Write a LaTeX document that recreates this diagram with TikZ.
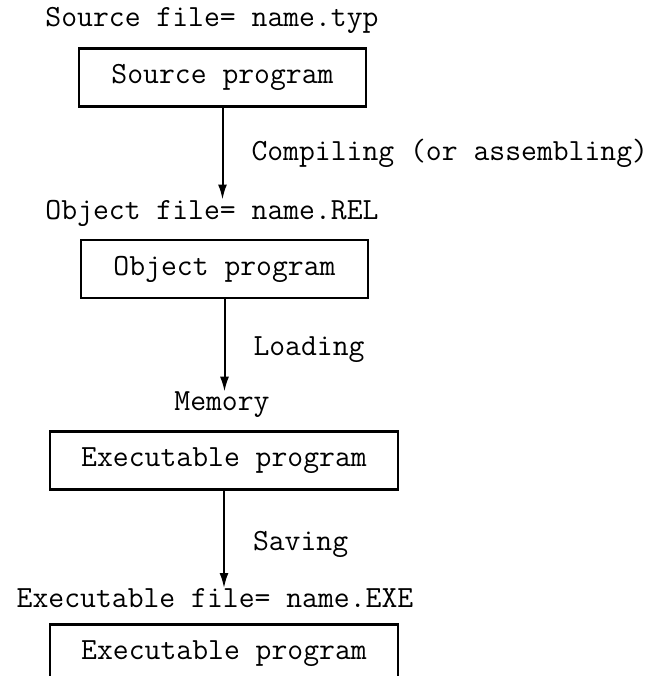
\documentclass[tikz,border=0pt]{standalone}
\usepackage{fontspec}
\usetikzlibrary{arrows.meta}

\begin{document}
\begin{tikzpicture}[x = .5pt, y = -.5pt,
		font = \ttfamily\fontsize{15.4}{18}\selectfont,
		prog/.style = {draw, line width = 1.1pt, minimum height = 29pt},
		lab/.style = {inner sep = 0pt},
		flow/.style = {line width = 1pt, -{Latex[length = 7.5pt, width = 4.5pt]}}]
		\clip (0,0) rectangle (658,676);
		
		\node (srcfile) at (212,20) [lab] {Source file= name.typ};
		\node (src) at (222.5,77.5) [prog, minimum width = 143.5pt] {Source program};
		
		\node (objfile) at (212,213) [lab] {Object file= name.REL};
		\node (obj) at (224.5,269) [prog, minimum width = 143.5pt] {Object program};
		
		\node (mem) at (222,405) [lab] {Memory};
		\node (exe) at (224,460.5) [prog, minimum width = 174pt] {Executable program};
		
		\node (exefile) at (215,598) [lab] {Executable file= name.EXE};
		\node (exe2) at (224,653.5) [prog, minimum width = 174pt] {Executable program};
		
		\draw [flow] (src.south) -- (objfile.north -| src.south)
			node [pos = .5, right = 14pt, lab] {Compiling (or assembling)};
		\draw [flow] (obj.south) -- (mem.north -| obj.south)
			node [pos = .55, right = 14pt, lab] {Loading};
		\draw [flow] (exe.south) -- (exefile.north -| exe.south)
			node [pos = .55, right = 14pt, lab] {Saving};
\end{tikzpicture}
\end{document}
